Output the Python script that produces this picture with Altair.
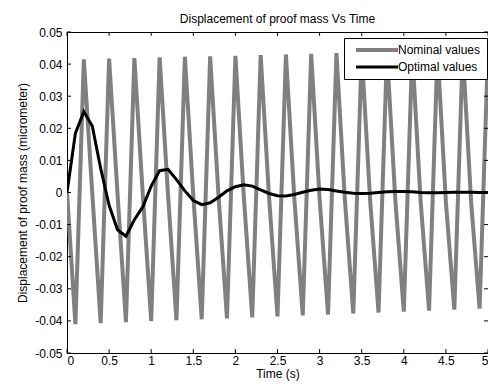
import altair as alt
import pandas as pd

time_s = [0.0, 0.1, 0.2, 0.3, 0.4, 0.5, 0.6, 0.7, 0.8, 0.9,
          1.0, 1.1, 1.2, 1.3, 1.4, 1.5, 1.6, 1.7, 1.8, 1.9,
          2.0, 2.1, 2.2, 2.3, 2.4, 2.5, 2.6, 2.7, 2.8, 2.9,
          3.0, 3.1, 3.2, 3.3, 3.4, 3.5, 3.6, 3.7, 3.8, 3.9,
          4.0, 4.1, 4.2, 4.3, 4.4, 4.5, 4.6, 4.7, 4.8, 4.9, 5.0]

nominal = [0.0, -0.0410, 0.0415, -0.0002, -0.0407, 0.0417,
           -0.0004, -0.0404, 0.0419, -0.0006, -0.0401, 0.0421,
           -0.0008, -0.0398, 0.0423, -0.0010, -0.0395, 0.0424,
           -0.0012, -0.0392, 0.0426, -0.0014, -0.0389, 0.0428,
           -0.0016, -0.0386, 0.0430, -0.0018, -0.0383, 0.0432,
           -0.0020, -0.0380, 0.0434, -0.0022, -0.0377, 0.0436,
           -0.0024, -0.0374, 0.0437, -0.0026, -0.0371, 0.0439,
           -0.0028, -0.0368, 0.0441, -0.0030, -0.0365, 0.0443,
           -0.0032, -0.0362, 0.0445]

optimal = [0.0, 0.0185, 0.0252, 0.0207, 0.0075, -0.0040, -0.0116, -0.0136, -0.0085, -0.0045,
           0.0020, 0.0068, 0.0072, 0.0040, 0.0005, -0.0025, -0.0038, -0.0032, -0.0015, 0.0005,
           0.0018, 0.0024, 0.0020, 0.0008, -0.0003, -0.0010, -0.0011, -0.0006, 0.0001, 0.0007,
           0.0011, 0.0009, 0.0005, 0.0001, -0.0002, -0.0003, -0.0002, 0.0000, 0.0002, 0.0003,
           0.0003, 0.0002, 0.0000, -0.0001, -0.0001, 0.0000, 0.0001, 0.0001, 0.0001, 0.0000, 0.0000]

series_names = ["Nominal values", "Optimal values"]
x_ticks = [0, 0.5, 1, 1.5, 2, 2.5, 3, 3.5, 4, 4.5, 5]
y_ticks = [-0.05, -0.04, -0.03, -0.02, -0.01, 0, 0.01, 0.02, 0.03, 0.04, 0.05]

df = pd.DataFrame({
    "t": time_s + time_s,
    "v": nominal + optimal,
    "series": [series_names[0]] * len(time_s) + [series_names[1]] * len(time_s),
})
xt = pd.DataFrame({"t": x_ticks})
yt = pd.DataFrame({"v": y_ticks})

FONT = "Liberation Sans"
xscale = alt.Scale(domain=[0, 5], nice=False, zero=False)
yscale = alt.Scale(domain=[-0.05, 0.05], nice=False, zero=False)

x_axis = alt.Axis(values=x_ticks, tickCount=20, format="~g", title="Time  (s)", ticks=False,
                  labelPadding=2, titlePadding=2, grid=False, labelOverlap=False)
y_axis = alt.Axis(values=y_ticks, tickCount=20,
                  labelExpr="replace(format(datum.value, '~g'), '\u2212', '-')",
                  title="Displacement of proof mass  (micrometer)", ticks=False,
                  labelPadding=5, titlePadding=5, grid=False, labelOverlap=False)

lines = alt.Chart(df).mark_line(clip=True).encode(
    x=alt.X("t:Q", scale=xscale, axis=x_axis),
    y=alt.Y("v:Q", scale=yscale, axis=y_axis),
    color=alt.Color("series:N",
                    scale=alt.Scale(domain=series_names, range=["#808080", "#000000"]),
                    legend=alt.Legend(title=None, orient="none", legendX=277, legendY=6,
                                      symbolType="M0,0H21", symbolSize=16, symbolStrokeWidth=4,
                                      labelFontSize=12, labelFont=FONT, labelColor="black",
                                      labelOffset=36, padding=6, strokeColor="black",
                                      fillColor="white", cornerRadius=0, rowPadding=3,
                                      symbolOpacity=1)),
    strokeWidth=alt.StrokeWidth("series:N",
                                scale=alt.Scale(domain=series_names, range=[4, 3]),
                                legend=None),
)

bottom_ticks = alt.Chart(xt).mark_rule(color="black", strokeWidth=1).encode(
    x=alt.X("t:Q", scale=xscale, axis=x_axis), y=alt.datum(-0.05), y2=alt.datum(-0.0488))
top_ticks = alt.Chart(xt).mark_rule(color="black", strokeWidth=1).encode(
    x=alt.X("t:Q", scale=xscale, axis=x_axis), y=alt.datum(0.05), y2=alt.datum(0.0488))
left_ticks = alt.Chart(yt).mark_rule(color="black", strokeWidth=1).encode(
    y=alt.Y("v:Q", scale=yscale, axis=y_axis), x=alt.datum(0), x2=alt.datum(0.047))
right_ticks = alt.Chart(yt).mark_rule(color="black", strokeWidth=1).encode(
    y=alt.Y("v:Q", scale=yscale, axis=y_axis), x=alt.datum(5), x2=alt.datum(4.953))

chart = alt.layer(lines, bottom_ticks, top_ticks, left_ticks, right_ticks).properties(
    width=421, height=321, background="white",
    title=alt.TitleParams("Displacement of proof mass Vs Time", fontSize=12, font=FONT,
                          fontWeight="normal", color="black", offset=0, anchor="middle",
                          frame="group"),
    autosize=alt.AutoSizeParams(type="none"),
    padding={"left": 59, "top": 24, "right": 0, "bottom": 28},
).configure_view(stroke="black", strokeWidth=1).configure_axis(
    domainColor="black", labelColor="black", titleColor="black",
    labelFont=FONT, titleFont=FONT, labelFontSize=12, titleFontSize=12,
    titleFontWeight="normal", labelOverlap=False,
)

chart.save("out.html", embed_options={"renderer": "svg", "actions": False})
